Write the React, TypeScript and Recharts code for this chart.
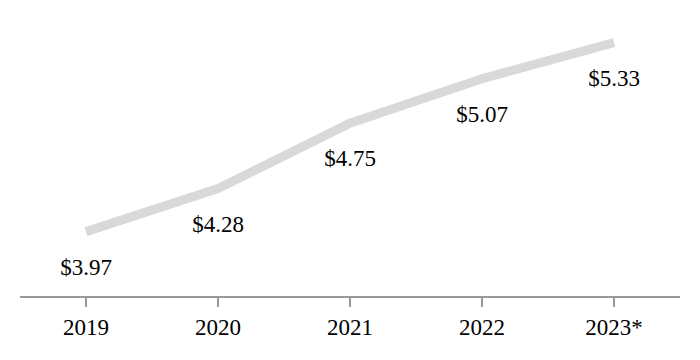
import { LineChart, Line, XAxis, YAxis, LabelList } from "recharts";

const years = ["2019", "2020", "2021", "2022", "2023*"];
const prices = [3.97, 4.28, 4.75, 5.07, 5.33];

const data = years.map((year, i) => ({ year, price: prices[i] }));

const FONT = '"Liberation Serif", "Times New Roman", serif';

function PriceLabel(props: any) {
  const { x, y, value } = props;
  return (
    <text
      x={x}
      y={y + 43}
      textAnchor="middle"
      fill="#000"
      fontSize={23}
      fontFamily={FONT}
    >
      {`$${Number(value).toFixed(2)}`}
    </text>
  );
}

export default function App() {
  return (
    <div style={{ position: "absolute", left: 0, top: 0, background: "#fff" }}>
      <LineChart
        width={700}
        height={360}
        data={data}
        margin={{ top: 5, right: 20, left: 20, bottom: 23 }}
      >
        <XAxis
          dataKey="year"
          scale="band"
          height={40}
          tickSize={10}
          tickMargin={12}
          stroke="#999"
          strokeWidth={2}
          tick={{ fill: "#000", fontSize: 23, fontFamily: FONT }}
        />
        <YAxis hide domain={[3.5, 5.6]} />
        <Line
          type="linear"
          dataKey="price"
          stroke="#d9d9d9"
          strokeWidth={9}
          dot={false}
          activeDot={false}
          isAnimationActive={false}
        >
          <LabelList dataKey="price" content={<PriceLabel />} />
        </Line>
      </LineChart>
    </div>
  );
}
